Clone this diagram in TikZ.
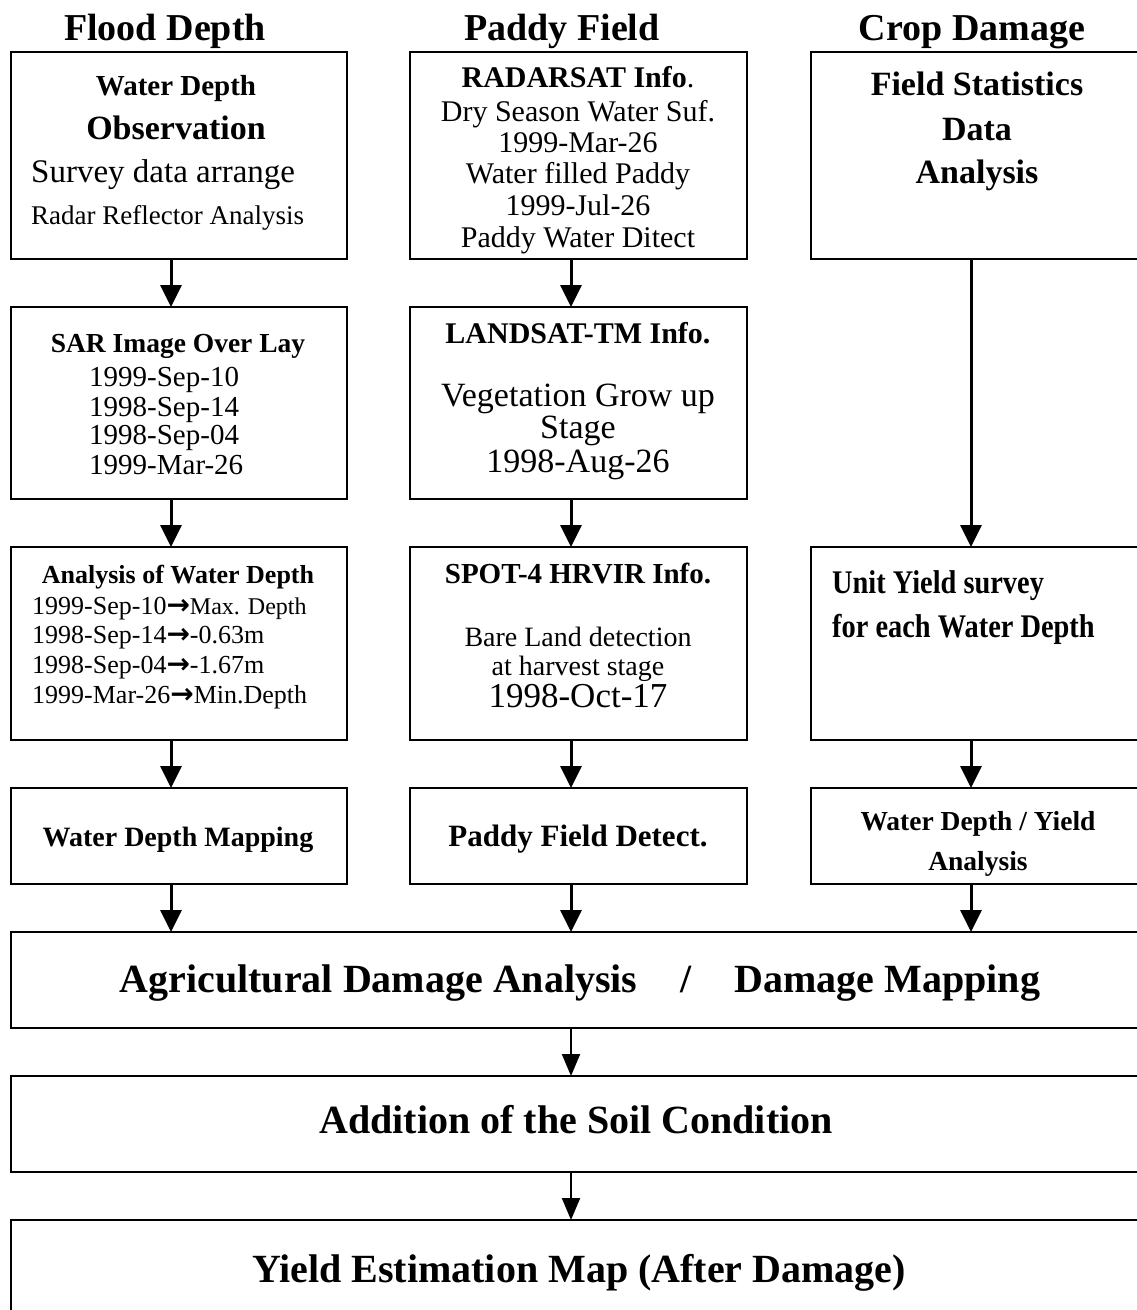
\documentclass[tikz,border=0pt]{standalone}
\usepackage{fontspec}
\setmainfont{Liberation Serif}
\newfontfamily\condserif[FakeStretch=0.86]{Liberation Serif}
\newfontfamily\arrowfont{DejaVu Sans}
\usetikzlibrary{arrows.meta}
\newcommand{\fs}[1]{\fontsize{#1pt}{#1pt}\selectfont}
\begin{document}
\begin{tikzpicture}[x=1pt,y=-1pt,
  box/.style={draw, line width=2pt, inner sep=0pt, outer sep=0pt, anchor=north west},
  arr/.style={line width=3pt, -{Triangle[length=22pt,width=21pt]}},
  arrthin/.style={line width=2pt, -{Triangle[length=22pt,width=18pt]}},
  ctext/.style={inner sep=0pt, anchor=base},
  ltext/.style={inner sep=0pt, anchor=base west},
  hdr/.style={ctext, font=\bfseries\fs{38}}]
\fill[white] (0,0) rectangle (1137,1310);
\useasboundingbox (0,0) rectangle (1137,1310);
\clip (0,0) rectangle (1137,1310);

\coordinate (cL) at (171,0);
\coordinate (cM) at (571,0);
\coordinate (cR) at (971,0);

% headers
\node[hdr] (h1) at (165,40) {Flood Depth};
\node[hdr] (h2) at (562,40) {Paddy Field};
\node[hdr] (h3) at (972,40) {Crop Damage};

% boxes
\node[box, minimum width=336pt, minimum height=207pt] (b1) at (11,52) {};
\node[box, minimum width=337pt, minimum height=207pt] (b2) at (410,52) {};
\node[box, minimum width=340pt, minimum height=207pt] (b3) at (811,52) {};
\node[box, minimum width=336pt, minimum height=192pt] (b4) at (11,307) {};
\node[box, minimum width=337pt, minimum height=192pt] (b5) at (410,307) {};
\node[box, minimum width=336pt, minimum height=193pt] (b6) at (11,547) {};
\node[box, minimum width=337pt, minimum height=193pt] (b7) at (410,547) {};
\node[box, minimum width=340pt, minimum height=193pt] (b8) at (811,547) {};
\node[box, minimum width=336pt, minimum height=96pt] (b9) at (11,788) {};
\node[box, minimum width=337pt, minimum height=96pt] (b10) at (410,788) {};
\node[box, minimum width=340pt, minimum height=96pt] (b11) at (811,788) {};
\node[box, minimum width=1140pt, minimum height=96pt] (bA) at (11,932) {};
\node[box, minimum width=1140pt, minimum height=96pt] (bB) at (11,1076) {};
\node[box, minimum width=1140pt, minimum height=120pt] (bC) at (11,1220) {};

% box 1 texts
\node[ctext, font=\bfseries\fs{29}] (t1a) at (176,95) {Water Depth};
\node[ctext, font=\bfseries\fs{34}] (t1b) at (176,139) {Observation};
\node[ltext, font=\fs{33}] (t1c) at (31,182) {Survey data arrange};
\node[ltext, font=\fs{27}] (t1d) at (31,224) {Radar Reflector Analysis};

% box 2 texts
\node[ctext, font=\fs{30}] (t2a) at (578,87) {\bfseries RADARSAT Info\mdseries.};
\node[ctext, font=\fs{30}] (t2b) at (578,121) {Dry Season Water Suf.};
\node[ctext, font=\fs{30}] (t2c) at (578,152) {1999-Mar-26};
\node[ctext, font=\fs{30}] (t2d) at (578,183) {Water filled Paddy};
\node[ctext, font=\fs{30}] (t2e) at (578,215) {1999-Jul-26};
\node[ctext, font=\fs{30}] (t2f) at (578,247) {Paddy Water Ditect};

% box 3 texts
\node[ctext, font=\bfseries\fs{34}] (t3a) at (977,95) {Field Statistics};
\node[ctext, font=\bfseries\fs{34}] (t3b) at (977,140) {Data};
\node[ctext, font=\bfseries\fs{34}] (t3c) at (977,183) {Analysis};

% box 4 texts
\node[ctext, font=\bfseries\fs{27.5}] (t4a) at (178,352) {SAR Image Over Lay};
\node[ltext, font=\fs{29}] (t4b) at (89,386) {1999-Sep-10};
\node[ltext, font=\fs{29}] (t4c) at (89,416) {1998-Sep-14};
\node[ltext, font=\fs{29}] (t4d) at (89,444) {1998-Sep-04};
\node[ltext, font=\fs{29}] (t4e) at (89,474) {1999-Mar-26};

% box 5 texts
\node[ctext, font=\bfseries\fs{30}] (t5a) at (578,343) {LANDSAT-TM Info.};
\node[ctext, font=\fs{34}] (t5b) at (578,406) {Vegetation Grow up};
\node[ctext, font=\fs{34}] (t5c) at (578,438) {Stage};
\node[ctext, font=\fs{34}] (t5d) at (578,472) {1998-Aug-26};

% box 6 texts
\node[ctext, font=\bfseries\fs{26}] (t6a) at (178,583) {Analysis of Water Depth};
\node[ltext, font=\fs{26}] (t6b) at (32,614) {1999-Sep-10{\arrowfont\bfseries\fs{28}→}{\fs{24}Max. Depth}};
\node[ltext, font=\fs{26}] (t6c) at (32,643) {1998-Sep-14{\arrowfont\bfseries\fs{28}→}-0.63m};
\node[ltext, font=\fs{26}] (t6d) at (32,673) {1998-Sep-04{\arrowfont\bfseries\fs{28}→}-1.67m};
\node[ltext, font=\fs{26}] (t6e) at (32,703) {1999-Mar-26{\arrowfont\bfseries\fs{28}→}Min.Depth};

% box 7 texts
\node[ctext, font=\bfseries\fs{29}] (t7a) at (578,583) {SPOT-4 HRVIR Info.};
\node[ctext, font=\fs{28}] (t7b) at (578,646) {Bare Land detection};
\node[ctext, font=\fs{28}] (t7c) at (578,675) {at harvest stage};
\node[ctext, font=\fs{35}] (t7d) at (578,707) {1998-Oct-17};

% box 8 texts
\node[ltext, font=\condserif\bfseries\fs{33}] (t8a) at (832,593) {Unit Yield survey};
\node[ltext, font=\condserif\bfseries\fs{33}] (t8b) at (832,637) {for each Water Depth};

% row 4 texts
\node[ctext, font=\bfseries\fs{28}] (t9) at (178,846) {Water Depth Mapping};
\node[ctext, font=\bfseries\fs{31}] (t10) at (578,846) {Paddy Field Detect.};
\node[ctext, font=\bfseries\fs{27.5}] (t11a) at (978,830) {Water Depth / Yield};
\node[ctext, font=\bfseries\fs{27.5}] (t11b) at (978,870) {Analysis};

% big boxes texts
\node[ctext, font=\bfseries\fs{40}] (tA) at (580,992) {Agricultural Damage Analysis\hspace{43pt}/\hspace{43pt}Damage Mapping};
\node[ctext, font=\bfseries\fs{40}] (tB) at (576,1133) {Addition of the Soil Condition};
\node[ctext, font=\bfseries\fs{40}] (tC) at (579,1282) {Yield Estimation Map (After Damage)};

% connectors
\draw[arr] (b1.south -| cL) -- (b4.north -| cL);
\draw[arr] (b4.south -| cL) -- (b6.north -| cL);
\draw[arr] (b6.south -| cL) -- (b9.north -| cL);
\draw[arr] (b9.south -| cL) -- (bA.north -| cL);
\draw[arr] (b2.south -| cM) -- (b5.north -| cM);
\draw[arr] (b5.south -| cM) -- (b7.north -| cM);
\draw[arr] (b7.south -| cM) -- (b10.north -| cM);
\draw[arr] (b10.south -| cM) -- (bA.north -| cM);
\draw[arr] (b3.south -| cR) -- (b8.north -| cR);
\draw[arr] (b8.south -| cR) -- (b11.north -| cR);
\draw[arr] (b11.south -| cR) -- (bA.north -| cR);
\draw[arrthin] (bA.south -| cM) -- (bB.north -| cM);
\draw[arrthin] (bB.south -| cM) -- (bC.north -| cM);
\end{tikzpicture}
\end{document}
